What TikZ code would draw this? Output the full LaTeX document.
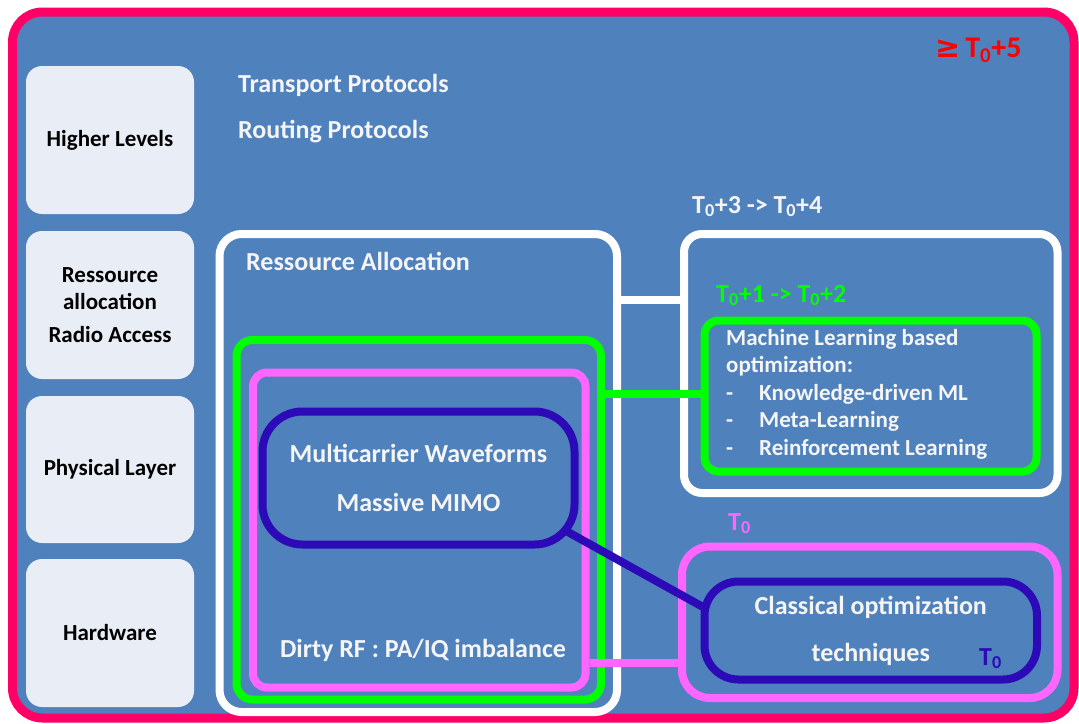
\documentclass[tikz,border=0pt]{standalone}
\usepackage{fontspec}
\setmainfont{Carlito}
\newfontfamily\symfont{DejaVu Sans}
\usetikzlibrary{calc}

\definecolor{slideblue}{RGB}{79,129,189}
\definecolor{framepink}{RGB}{255,0,102}
\definecolor{layergray}{RGB}{233,238,246}
\definecolor{limegreen}{RGB}{0,255,0}
\definecolor{orchid}{RGB}{255,102,255}
\definecolor{deepblue}{RGB}{44,10,184}
\definecolor{softwhite}{RGB}{245,245,245}

\newcommand{\Tz}{T\textsubscript{0}}

\begin{document}
\begin{tikzpicture}[
    x=1pt, y=-1pt,
    layer box/.style={
        fill=layergray,
        rounded corners=16pt,
        minimum width=168pt,
        minimum height=148pt,
        inner sep=0pt,
        align=center,
        font=\bfseries\fontsize{23}{27}\selectfont
    },
    group box/.style={
        draw=#1,
        line width=8pt,
        inner sep=0pt,
        align=center,
        text=softwhite,
        font=\bfseries\fontsize{26}{31}\selectfont
    },
    label style/.style={
        text=#1,
        inner sep=0pt,
        font=\bfseries\fontsize{26}{31}\selectfont
    },
    link style/.style={
        draw=#1,
        line width=8pt
    }
]

% Page and frame
\fill[white] (0,0) rectangle (1079,723);
\useasboundingbox (0,0) rectangle (1079,723);
\node[draw=framepink, fill=slideblue, line width=9pt, rounded corners=30pt,
      minimum width=1061.5pt, minimum height=706pt, inner sep=0pt]
      (frame) at (543.25,365) {};

% Layers on the left
\node[layer box] (HL) at (110,140)   {Higher Levels};
\node[layer box] (RA) at (110,305)   {Ressource\\allocation\\[6pt]Radio Access};
\node[layer box, minimum height=147pt] (PL) at (110,469.5) {Physical Layer};
\node[layer box] (HW) at (110,633)   {Hardware};

% Protocols
\node[label style=softwhite, anchor=base west] (tp) at (238,92)  {Transport Protocols};
\node[label style=softwhite, anchor=base west] (rp) at (238,138) {Routing Protocols};

% Nested boxes on the left
\node[group box=white, rounded corners=22pt, minimum width=397.5pt, minimum height=478pt]
      (ra) at (418.25,473) {};
\node[group box=limegreen, rounded corners=16pt, minimum width=364.5pt, minimum height=359.5pt]
      (grn) at (418.75,519.75) {};
\node[group box=orchid, rounded corners=14pt, minimum width=332.5pt, minimum height=315pt]
      (pnk) at (419.25,530) {};
\node[group box=deepblue, rounded corners=40pt, minimum width=312pt, minimum height=133pt]
      (wave) at (418.5,478) {Multicarrier Waveforms\\[18pt]Massive MIMO};
\node[label style=softwhite, anchor=base west] (ralabel) at (246,270) {Ressource Allocation};
\node[label style=softwhite, anchor=base] (dirty) at (423,657) {Dirty RF : PA/IQ imbalance};

% Boxes on the right
\node[group box=white, rounded corners=18pt, minimum width=373.5pt, minimum height=259pt]
      (wr) at (870.75,363.5) {};
\node[group box=limegreen, rounded corners=14pt, minimum width=332pt, minimum height=151pt]
      (ml) at (870.5,396) {};
\node[label style=softwhite, anchor=base west, align=left,
      font=\bfseries\fontsize{23}{27.5}\selectfont] (mltext) at (726,455)
      {Machine Learning based\\optimization:\\
       \makebox[33pt][l]{-}Knowledge-driven ML\\
       \makebox[33pt][l]{-}Meta-Learning\\
       \makebox[33pt][l]{-}Reinforcement Learning};
\node[group box=orchid, rounded corners=28pt, minimum width=375.5pt, minimum height=151.5pt]
      (pr) at (869.75,622.25) {};
\node[group box=deepblue, rounded corners=34pt, minimum width=332.5pt, minimum height=98pt]
      (co) at (870.75,630.5) {Classical optimization\\[16pt]techniques};

% Time labels
\node[label style=red, anchor=base west, font=\bfseries\fontsize{30}{36}\selectfont]
      (t5) at (935,57) {{\symfont\bfseries ≥}\,\Tz+5};
\node[label style=softwhite, anchor=base west] (t34) at (692,213) {\Tz+3 -> \Tz+4};
\node[label style=limegreen, anchor=base west] (t12) at (716,302) {\Tz+1 -> \Tz+2};
\node[label style=orchid, anchor=base west] (t0p) at (728,530) {\Tz};
\node[label style=deepblue, anchor=base west] (t0b) at (979,665) {\Tz};

% Links
\coordinate (wlink) at (650,300);
\coordinate (glink) at (650,394);
\coordinate (plink) at (650,662.5);
\draw[link style=white] (ra.east |- wlink) -- (wr.west |- wlink);
\draw[link style=limegreen] (grn.east |- glink) -- (ml.west |- glink);
\draw[link style=orchid] (pnk.east |- plink) -- (pr.west |- plink);
\draw[link style=deepblue] ($(wave.south east)+(-11.5,-17)$) -- ($(co.west)+(2.5,-23.5)$);

\end{tikzpicture}
\end{document}
